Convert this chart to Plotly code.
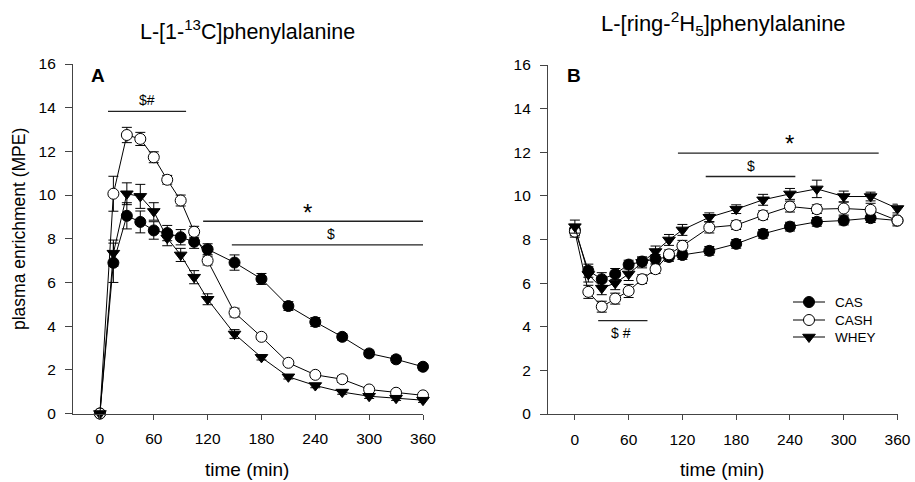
import plotly.graph_objects as go

# ---------------- data ----------------
time_min = [0, 15, 30, 45, 60, 75, 90, 105, 120, 150, 180, 210, 240, 270, 300, 330, 360]
x_ticks = [0, 60, 120, 180, 240, 300, 360]
y_ticks = [0, 2, 4, 6, 8, 10, 12, 14, 16]

# Panel A: L-[1-13C]phenylalanine
a_cas = [0, 6.9, 9.05, 8.77, 8.38, 8.26, 8.07, 7.86, 7.52, 6.91, 6.16, 4.92, 4.19, 3.51, 2.75, 2.48, 2.14]
a_cas_err = [0, 0.9, 0.6, 0.5, 0.4, 0.35, 0.35, 0.3, 0.25, 0.35, 0.25, 0.2, 0.2, 0.15, 0.15, 0.15, 0.15]
a_cash = [0, 10.06, 12.75, 12.57, 11.73, 10.70, 9.75, 8.32, 7.0, 4.62, 3.51, 2.32, 1.77, 1.57, 1.10, 0.95, 0.83]
a_cash_err = [0, 0.8, 0.35, 0.3, 0.25, 0.2, 0.25, 0.25, 0.2, 0.2, 0.12, 0.1, 0.1, 0.15, 0.1, 0.1, 0.1]
a_whey = [0, 7.34, 10.06, 9.94, 9.25, 8.03, 7.26, 6.24, 5.23, 3.64, 2.57, 1.68, 1.28, 0.98, 0.79, 0.70, 0.61]
a_whey_err = [0, 0.6, 0.5, 0.55, 0.4, 0.35, 0.3, 0.3, 0.25, 0.2, 0.12, 0.1, 0.1, 0.1, 0.1, 0.1, 0.1]

# Panel B: L-[ring-2H5]phenylalanine
b_cas = [8.44, 6.57, 6.18, 6.42, 6.85, 6.99, 7.11, 7.2, 7.29, 7.48, 7.80, 8.26, 8.59, 8.81, 8.87, 8.98, 8.87]
b_cas_err = [0.25, 0.3, 0.3, 0.25, 0.2, 0.2, 0.2, 0.2, 0.2, 0.2, 0.2, 0.2, 0.2, 0.2, 0.2, 0.2, 0.2]
b_cash = [8.36, 5.6, 4.92, 5.29, 5.64, 6.18, 6.64, 7.32, 7.71, 8.55, 8.66, 9.11, 9.51, 9.39, 9.42, 9.36, 8.87]
b_cash_err = [0.25, 0.3, 0.25, 0.25, 0.3, 0.2, 0.2, 0.2, 0.25, 0.25, 0.2, 0.2, 0.25, 0.2, 0.3, 0.3, 0.25]
b_whey = [8.59, 6.4, 5.77, 6.0, 6.42, 6.95, 7.45, 7.98, 8.44, 9.02, 9.39, 9.82, 10.09, 10.32, 9.97, 9.97, 9.42]
b_whey_err = [0.3, 0.35, 0.3, 0.3, 0.3, 0.25, 0.25, 0.25, 0.25, 0.2, 0.2, 0.25, 0.25, 0.4, 0.25, 0.2, 0.2]

# significance bars: (x0, x1, y, label, label_x, label_y)
a_sig = [(9, 96, 13.83, "$#", 52, 14.35),
         (115, 364, 8.8, "*", 231, 9.2),
         (147, 364, 7.72, "$", 257, 8.2)]
b_sig = [(115, 339, 11.96, "*", 239, 12.4),
         (146, 246, 10.89, "$", 196, 11.35),
         (26, 81, 4.28, "$ #", 51, 3.7)]

series_names = ["CAS", "CASH", "WHEY"]

# ---------------- styling ----------------
W, H = 915, 482
FONT = "Arial, Liberation Sans, sans-serif"
AX = "#444444"

def px_x(p):
    return p / W

def px_y(p):
    return 1 - p / H

def f(size, weight="normal"):
    return dict(family=FONT, size=size, color="black", weight=weight)

styles = {
    "CAS": dict(symbol="circle", color="black", size=11),
    "CASH": dict(symbol="circle", color="white", size=11),
    "WHEY": dict(symbol="triangle-down", color="black", size=11),
}

fig = go.Figure()

def add_panel(xa, ya, ys, errs):
    for name, yv, ev in zip(series_names, ys, errs):
        st = styles[name]
        fig.add_trace(go.Scatter(
            x=time_min, y=yv, name=name, mode="lines+markers",
            xaxis=xa, yaxis=ya, showlegend=False, cliponaxis=False,
            line=dict(color="black", width=1),
            marker=dict(symbol=st["symbol"], color=st["color"], size=st["size"],
                        line=dict(color="black", width=1)),
            error_y=dict(type="data", array=ev, visible=True, color="black",
                         thickness=1, width=5),
        ))

add_panel("x", "y", [a_cas, a_cash, a_whey], [a_cas_err, a_cash_err, a_whey_err])
add_panel("x2", "y2", [b_cas, b_cash, b_whey], [b_cas_err, b_cash_err, b_whey_err])

# ---- legend drawn on a hidden pixel-unit overlay axis (x3/y3) ----
LEG_X0, LEG_X1, LEG_TEXT_X = 793, 825, 833
LEG_ROWS = [302, 320, 337]

shapes = []
annotations = []
for name, ry in zip(series_names, LEG_ROWS):
    st = styles[name]
    fig.add_trace(go.Scatter(
        x=[LEG_X0, LEG_X1], y=[ry, ry], mode="lines", xaxis="x3", yaxis="y3",
        showlegend=False, hoverinfo="skip", line=dict(color="black", width=1)))
    fig.add_trace(go.Scatter(
        x=[(LEG_X0 + LEG_X1) / 2], y=[ry], mode="markers", xaxis="x3", yaxis="y3",
        showlegend=False, hoverinfo="skip", cliponaxis=False,
        marker=dict(symbol=st["symbol"], color=st["color"], size=st["size"],
                    line=dict(color="black", width=1))))
    annotations.append(dict(xref="x3", yref="y3", x=LEG_TEXT_X, y=ry, text=name,
                            showarrow=False, xanchor="left", yanchor="middle",
                            font=f(13.5)))

for sig, xr, yr in [(a_sig, "x", "y"), (b_sig, "x2", "y2")]:
    for x0, x1, yv, lab, lx, ly in sig:
        shapes.append(dict(type="line", xref=xr, yref=yr, x0=x0, x1=x1, y0=yv, y1=yv,
                           line=dict(color="#222222", width=1.4)))
        big = lab == "*"
        annotations.append(dict(xref=xr, yref=yr, x=lx, y=ly, text=lab, showarrow=False,
                                font=f(24 if big else 14),
                                xanchor="center", yanchor="middle"))

# titles, panel letters, axis titles
annotations += [
    dict(xref="paper", yref="paper", x=px_x(247.5), y=px_y(30),
         text="L-[1-<sup>13</sup>C]phenylalanine", showarrow=False,
         font=f(21.5), xanchor="center", yanchor="middle"),
    dict(xref="paper", yref="paper", x=px_x(723), y=px_y(23),
         text="L-[ring-<sup>2</sup>H<sub>5</sub>]phenylalanine", showarrow=False,
         font=f(22), xanchor="center", yanchor="middle"),
    dict(xref="paper", yref="paper", x=px_x(98), y=px_y(75), text="A", showarrow=False,
         font=f(19, "bold"), xanchor="center", yanchor="middle"),
    dict(xref="paper", yref="paper", x=px_x(574), y=px_y(75), text="B", showarrow=False,
         font=f(19, "bold"), xanchor="center", yanchor="middle"),
    dict(xref="paper", yref="paper", x=px_x(247), y=px_y(469), text="time (min)", showarrow=False,
         font=f(19), xanchor="center", yanchor="middle"),
    dict(xref="paper", yref="paper", x=px_x(722), y=px_y(469), text="time (min)", showarrow=False,
         font=f(19), xanchor="center", yanchor="middle"),
    dict(xref="paper", yref="paper", x=px_x(19), y=px_y(229), text="plasma enrichment (MPE)",
         showarrow=False, textangle=-90,
         font=f(17.5), xanchor="center", yanchor="middle"),
]

def xaxis(domain, anchor):
    return dict(domain=domain, anchor=anchor, range=[-30, 360], tickvals=x_ticks,
                automargin=False,
                showgrid=False, zeroline=False, showline=True, linecolor=AX, linewidth=1.2,
                ticks="outside", ticklen=5, tickcolor=AX, tickwidth=1.2,
                tickfont=f(15.5), ticklabelstandoff=6)

def yaxis(domain, anchor):
    return dict(domain=domain, anchor=anchor, range=[0, 16], tickvals=y_ticks,
                automargin=False,
                showgrid=False, zeroline=False, showline=True, linecolor=AX, linewidth=1.2,
                ticks="outside", ticklen=7, tickcolor=AX, tickwidth=1.2,
                tickfont=f(15.5), ticklabelstandoff=6)

fig.update_layout(
    template="none",
    width=W, height=H, autosize=False,
    margin=dict(l=0, r=0, t=0, b=0, pad=0, autoexpand=False),
    paper_bgcolor="white", plot_bgcolor="rgba(0,0,0,0)",
    font=dict(family=FONT, color="black"),
    xaxis=xaxis([px_x(73), px_x(423)], "y"),
    yaxis=yaxis([px_y(413.5), px_y(64)], "x"),
    xaxis2=xaxis([px_x(548), px_x(897.5)], "y2"),
    yaxis2=yaxis([px_y(414), px_y(65)], "x2"),
    xaxis3=dict(domain=[0, 1], range=[0, W], anchor="y3", visible=False,
                showgrid=False, zeroline=False, automargin=False, fixedrange=True),
    yaxis3=dict(domain=[0, 1], range=[H, 0], anchor="x3", visible=False,
                showgrid=False, zeroline=False, automargin=False, fixedrange=True),
    shapes=shapes, annotations=annotations,
    showlegend=False,
)

fig.write_html(
    "out.html",
    post_script="document.body.style.margin='0';document.body.style.overflow='hidden';",
)
